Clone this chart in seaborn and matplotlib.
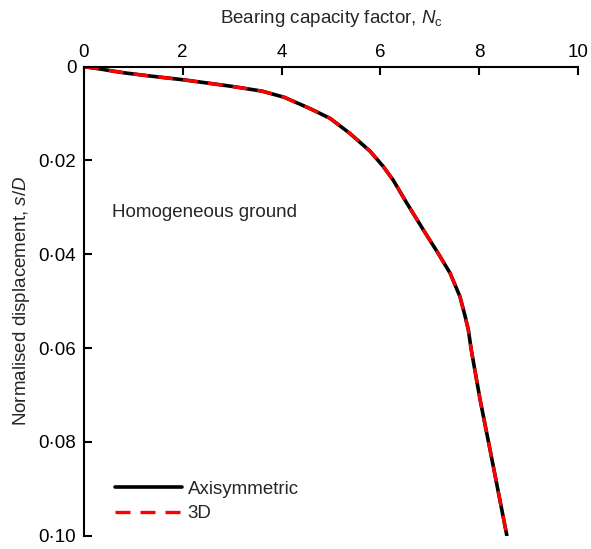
import matplotlib
matplotlib.use("Agg")
import matplotlib.pyplot as plt
import seaborn as sns
import pandas as pd
from matplotlib.ticker import FixedLocator, FixedFormatter

# Data
nc = [0, 0.27, 0.81, 1.35, 2.02, 3.0, 3.6, 4.05, 4.57, 4.98, 5.38, 5.79, 6.06, 6.26,
      6.53, 6.87, 7.17, 7.41, 7.61, 7.71, 7.78, 7.84, 8.02, 8.22, 8.56]
sd = [0, 0.0004, 0.0013, 0.0020, 0.0028, 0.0042, 0.0052, 0.0065, 0.0089, 0.0110, 0.0142,
      0.0180, 0.0213, 0.0242, 0.0290, 0.0348, 0.0398, 0.0440, 0.0490, 0.0530, 0.0561,
      0.0604, 0.0711, 0.0817, 0.1]
series_names = ["Axisymmetric", "3D"]
x_ticks = [0, 2, 4, 6, 8, 10]
y_ticks = [0, 0.02, 0.04, 0.06, 0.08, 0.10]
y_tick_labels = ["0", "0·02", "0·04", "0·06", "0·08", "0·10"]

sns.set_theme(style="white")
plt.rcParams["font.family"] = ["Liberation Sans", "DejaVu Sans"]
plt.rcParams["mathtext.fontset"] = "custom"
plt.rcParams["mathtext.it"] = "Liberation Sans:italic"
plt.rcParams["mathtext.rm"] = "Liberation Sans"

FS = 13.5

df = pd.concat([
    pd.DataFrame({"Nc": nc, "sD": sd, "model": series_names[0]}),
    pd.DataFrame({"Nc": nc, "sD": sd, "model": series_names[1]}),
])

fig = plt.figure(figsize=(5.91, 5.49), dpi=100)
ax = fig.add_axes([0.142, 0.0244, 0.836, 0.8541])

sns.lineplot(data=df[df.model == series_names[0]], x="Nc", y="sD", ax=ax,
             color="black", lw=2.6, sort=False, estimator=None,
             label=series_names[0])
sns.lineplot(data=df[df.model == series_names[1]], x="Nc", y="sD", ax=ax,
             color="#ff0000", lw=2.4, sort=False, estimator=None,
             label=series_names[1], dashes=False)
ax.lines[1].set_dashes((4.5, 3))
for ln in ax.lines:
    ln.set_solid_joinstyle("round")
    ln.set_dash_joinstyle("round")

ax.set_xlim(0, 10)
ax.set_ylim(0.10, 0)
ax.xaxis.set_major_locator(FixedLocator(x_ticks))
ax.yaxis.set_major_locator(FixedLocator(y_ticks))
ax.yaxis.set_major_formatter(FixedFormatter(y_tick_labels))
ax.xaxis.tick_top()
ax.xaxis.set_label_position("top")
ax.tick_params(axis="both", direction="in", length=6, width=1.5,
               labelsize=FS, colors="black")
ax.tick_params(axis="x", top=True, bottom=False, pad=4)
ax.tick_params(axis="y", left=True, right=False, pad=5.5)
for side in ["right", "bottom"]:
    ax.spines[side].set_visible(False)
for side in ["left", "top"]:
    ax.spines[side].set_linewidth(1.5)
    ax.spines[side].set_color("black")

ax.set_xlabel(r"Bearing capacity factor, $N_{\mathrm{c}}$", fontsize=FS, labelpad=15)
ax.set_ylabel(r"Normalised displacement, $s/D$", fontsize=FS, labelpad=5)

ax.text(0.57, 0.031, "Homogeneous ground", fontsize=FS, ha="left", va="center")

leg = ax.legend(loc="lower left", frameon=False, fontsize=FS,
                handlelength=3.6, handletextpad=0.3, labelspacing=0.4,
                bbox_to_anchor=(0.028, -0.008))

fig.savefig("out.png", dpi=100)
